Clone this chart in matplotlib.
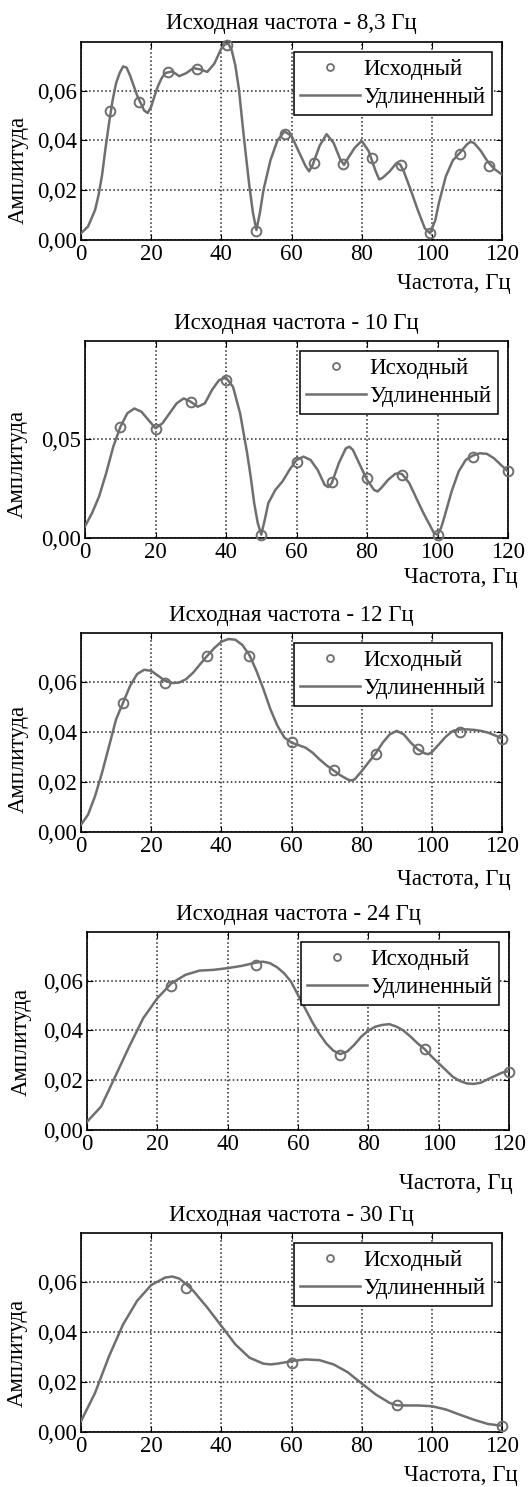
import numpy as np
import matplotlib.pyplot as plt
from matplotlib.ticker import FuncFormatter
from matplotlib.lines import Line2D

plt.rcParams['font.family'] = ['Liberation Serif', 'DejaVu Serif']
plt.rcParams['font.size'] = 16

# --- data ---
titles = ['Исходная частота - 8,3 Гц', 'Исходная частота - 10 Гц',
          'Исходная частота - 12 Гц', 'Исходная частота - 24 Гц',
          'Исходная частота - 30 Гц']
x_ticks = [0, 20, 40, 60, 80, 100, 120]

# 8,3 Hz
src1_x = [8.3, 16.6, 24.9, 33.2, 41.5, 49.8, 58.1, 66.4, 74.7, 83.0, 91.3, 99.6, 107.9, 116.2]
src1_y = [0.0519, 0.0556, 0.0674, 0.0685, 0.0782, 0.0036, 0.0425, 0.0310, 0.0306, 0.0330,
          0.0301, 0.0027, 0.0344, 0.0299]
ext1_x = [0, 2, 4, 5, 6, 7, 8, 9, 10, 11, 12, 13, 14, 15, 16, 17, 18, 19, 20, 21, 22, 23, 24,
          26, 28, 30, 32, 34, 36, 38, 40, 41, 42, 43, 44, 45, 46, 47, 48, 49, 50, 51, 52, 54,
          56, 58, 60, 62, 64, 65, 66, 68, 70, 72, 74, 75, 76, 78, 80, 82, 84, 85, 86, 88, 90,
          91, 92, 94, 96, 98, 99.5, 101, 102, 104, 106, 108, 110, 111, 112, 114, 116, 118, 120]
ext1_y = [0.0027, 0.0054, 0.0120, 0.0180, 0.0260, 0.0370, 0.0470, 0.0560, 0.0630, 0.0670,
          0.0697, 0.0692, 0.0660, 0.0620, 0.0580, 0.0550, 0.0520, 0.0510, 0.0535, 0.0580,
          0.0620, 0.0650, 0.0670, 0.0677, 0.0658, 0.0670, 0.0690, 0.0685, 0.0675, 0.0708,
          0.0769, 0.0785, 0.0789, 0.0760, 0.0700, 0.0607, 0.0470, 0.0340, 0.0216, 0.0110,
          0.0040, 0.0110, 0.0200, 0.0320, 0.0400, 0.0436, 0.0418, 0.0357, 0.0297, 0.0276,
          0.0300, 0.0378, 0.0425, 0.0390, 0.0320, 0.0302, 0.0326, 0.0370, 0.0398, 0.0357,
          0.0276, 0.0243, 0.0250, 0.0276, 0.0310, 0.0303, 0.0276, 0.0200, 0.0120, 0.0047,
          0.0027, 0.0080, 0.0148, 0.0256, 0.0320, 0.0350, 0.0384, 0.0394, 0.0390, 0.0357,
          0.0313, 0.0283, 0.0263]

# 10 Hz
src2_x = [10, 20, 30, 40, 50, 60, 70, 80, 90, 100, 110, 120]
src2_y = [0.0562, 0.0550, 0.0685, 0.0800, 0.0017, 0.0383, 0.0282, 0.0302, 0.0319, 0.0017,
          0.0408, 0.0336]
ext2_x = [0, 2, 4, 6, 8, 10, 12, 14, 16, 18, 20, 22, 24, 26, 28, 30, 32, 34, 36, 38, 40, 42,
          44, 46, 47, 48, 49, 50, 51, 52, 54, 56, 58, 60, 62, 64, 66, 68, 69, 70, 72, 74, 75,
          76, 78, 80, 82, 83, 84, 86, 88, 89, 90, 92, 94, 96, 98, 99, 100, 101, 102, 104, 106,
          108, 110, 112, 114, 116, 118, 120]
ext2_y = [0.0059, 0.0126, 0.0210, 0.0327, 0.0460, 0.0560, 0.0630, 0.0654, 0.0638, 0.0596,
          0.0554, 0.0580, 0.0630, 0.0680, 0.0705, 0.0688, 0.0663, 0.0680, 0.0747, 0.0797,
          0.0810, 0.0763, 0.0630, 0.0428, 0.0310, 0.0176, 0.0076, 0.0017, 0.0092, 0.0176,
          0.0243, 0.0285, 0.0344, 0.0394, 0.0411, 0.0394, 0.0344, 0.0268, 0.0257, 0.0277,
          0.0378, 0.0453, 0.0461, 0.0445, 0.0369, 0.0294, 0.0243, 0.0235, 0.0252, 0.0294,
          0.0324, 0.0327, 0.0322, 0.0277, 0.0201, 0.0126, 0.0059, 0.0025, 0.0017, 0.0050,
          0.0109, 0.0235, 0.0336, 0.0394, 0.0416, 0.0428, 0.0425, 0.0403, 0.0369, 0.0336]

# 12 Hz
src3_x = [12, 24, 36, 48, 60, 72, 84, 96, 108, 120]
src3_y = [0.0517, 0.0597, 0.0704, 0.0704, 0.0359, 0.0247, 0.0310, 0.0330, 0.0400, 0.0373]
ext3_x = [0, 2, 4, 6, 8, 10, 12, 14, 16, 18, 20, 22, 24, 26, 28, 30, 32, 34, 36, 38, 40, 42,
          44, 46, 48, 50, 52, 54, 56, 58, 60, 62, 64, 66, 68, 70, 72, 74, 76, 77, 78, 80, 82,
          84, 86, 88, 90, 92, 94, 96, 98, 99, 100, 102, 104, 106, 108, 110, 112, 114, 116,
          118, 120]
ext3_y = [0.0029, 0.0069, 0.0143, 0.0237, 0.0343, 0.0450, 0.0517, 0.0584, 0.0631, 0.0648,
          0.0644, 0.0624, 0.0604, 0.0595, 0.0597, 0.0611, 0.0637, 0.0671, 0.0704, 0.0735,
          0.0760, 0.0771, 0.0768, 0.0747, 0.0707, 0.0644, 0.0571, 0.0490, 0.0424, 0.0377,
          0.0357, 0.0347, 0.0337, 0.0317, 0.0290, 0.0266, 0.0246, 0.0226, 0.0210, 0.0206,
          0.0210, 0.0243, 0.0279, 0.0314, 0.0357, 0.0390, 0.0404, 0.0390, 0.0357, 0.0330,
          0.0314, 0.0311, 0.0319, 0.0350, 0.0381, 0.0404, 0.0410, 0.0410, 0.0408, 0.0404,
          0.0397, 0.0386, 0.0373]

# 24 Hz
src4_x = [24, 48, 72, 96, 120]
src4_y = [0.0580, 0.0663, 0.0301, 0.0324, 0.0234]
ext4_x = [0, 4, 8, 12, 16, 20, 24, 28, 32, 36, 40, 44, 48, 50, 52, 54, 56, 58, 60, 62, 64,
          66, 68, 70, 72, 74, 76, 78, 80, 82, 84, 86, 88, 90, 92, 94, 96, 98, 100, 102, 104,
          106, 108, 110, 112, 114, 116, 118, 120]
ext4_y = [0.0033, 0.0094, 0.0214, 0.0335, 0.0449, 0.0529, 0.0589, 0.0623, 0.0640, 0.0643,
          0.0650, 0.0659, 0.0672, 0.0676, 0.0670, 0.0654, 0.0630, 0.0596, 0.0542, 0.0489,
          0.0435, 0.0388, 0.0348, 0.0319, 0.0305, 0.0315, 0.0342, 0.0375, 0.0399, 0.0415,
          0.0422, 0.0425, 0.0415, 0.0399, 0.0375, 0.0348, 0.0325, 0.0295, 0.0268, 0.0241,
          0.0214, 0.0197, 0.0187, 0.0185, 0.0190, 0.0204, 0.0217, 0.0230, 0.0237]

# 30 Hz
src5_x = [30, 60, 90, 120]
src5_y = [0.0577, 0.0277, 0.0106, 0.0025]
ext5_x = [0, 4, 8, 12, 16, 20, 24, 26, 28, 30, 32, 36, 40, 44, 48, 52, 54, 56, 60, 64, 68,
          72, 76, 80, 84, 88, 90, 92, 96, 100, 104, 108, 112, 116, 120]
ext5_y = [0.0043, 0.0156, 0.0303, 0.0430, 0.0524, 0.0587, 0.0617, 0.0621, 0.0613, 0.0590,
          0.0564, 0.0497, 0.0424, 0.0350, 0.0297, 0.0273, 0.0270, 0.0273, 0.0283, 0.0290,
          0.0287, 0.0270, 0.0239, 0.0194, 0.0150, 0.0116, 0.0107, 0.0106, 0.0106, 0.0103,
          0.0090, 0.0069, 0.0049, 0.0032, 0.0025]

W, H = 532, 1487
grey = '#6f6f6f'


def comma(v, pos):
    return f'{v:.2f}'.replace('.', ',')


def panel(fig, box, title, ext_x, ext_y, src_x, src_y, ymax, yticks, ylab, xlab):
    '''box = (left, top, right, bottom) in pixels; ylab/xlab = label anchors in pixels'''
    left, top, right, bottom = box
    ax = fig.add_axes([left / W, 1 - bottom / H, (right - left) / W, (bottom - top) / H])
    ax.plot(ext_x, ext_y, '-', color=grey, lw=1.8, zorder=3)
    ax.plot(src_x, src_y, 'o', mfc='none', mec=grey, ms=7, mew=1.4, zorder=4, clip_on=False)

    ax.set_xlim(0, 120)
    ax.set_ylim(0, ymax)
    ax.set_xticks(x_ticks)
    ax.set_yticks(yticks)
    ax.yaxis.set_major_formatter(FuncFormatter(comma))
    ax.grid(True, linestyle=':', color='#222222', lw=1.1)
    ax.tick_params(direction='in', length=4, top=True, right=True, pad=3, labelsize=16.5)
    for s in ax.spines.values():
        s.set_linewidth(1.2)
    ax.set_title(title, pad=9, fontsize=16.5)

    h_src = Line2D([], [], ls='none', marker='o', mfc='none', mec=grey, ms=5, mew=1.3)
    h_ext = Line2D([], [], color=grey, lw=1.8)
    leg = ax.legend([h_src, h_ext], ['Исходный', 'Удлиненный'], loc='upper right',
                    fancybox=False, framealpha=1, edgecolor='black', fontsize=16.5,
                    handlelength=2.6, handletextpad=0.12, borderpad=0.3,
                    labelspacing=0.3, borderaxespad=0.45)
    leg.get_frame().set_linewidth(1.1)
    leg.set_zorder(5)

    fig.text(ylab[0] / W, 1 - ylab[1] / H, 'Амплитуда', rotation=90,
             ha='center', va='center', fontsize=16.5)
    fig.text(xlab[0] / W, 1 - xlab[1] / H, 'Частота, Гц', ha='right', va='center', fontsize=16.5)
    return ax


fig = plt.figure(figsize=(W / 100, H / 100), dpi=100)

panel(fig, (81, 42, 502, 240), titles[0], ext1_x, ext1_y, src1_x, src1_y,
      0.0795, [0, 0.02, 0.04, 0.06], (18, 170), (511, 283))
panel(fig, (85, 341, 508, 538), titles[1], ext2_x, ext2_y, src2_x, src2_y,
      0.0995, [0, 0.05], (17, 464), (518, 577))
panel(fig, (81, 633, 502, 832), titles[2], ext3_x, ext3_y, src3_x, src3_y,
      0.0795, [0, 0.02, 0.04, 0.06], (18, 759), (511, 879))
panel(fig, (87, 932, 509, 1130), titles[3], ext4_x, ext4_y, src4_x, src4_y,
      0.0795, [0, 0.02, 0.04, 0.06], (21, 1042), (513, 1183))
panel(fig, (81, 1233, 502, 1432), titles[4], ext5_x, ext5_y, src5_x, src5_y,
      0.0795, [0, 0.02, 0.04, 0.06], (17, 1353), (518, 1476))

fig.savefig('out.png', dpi=100)
